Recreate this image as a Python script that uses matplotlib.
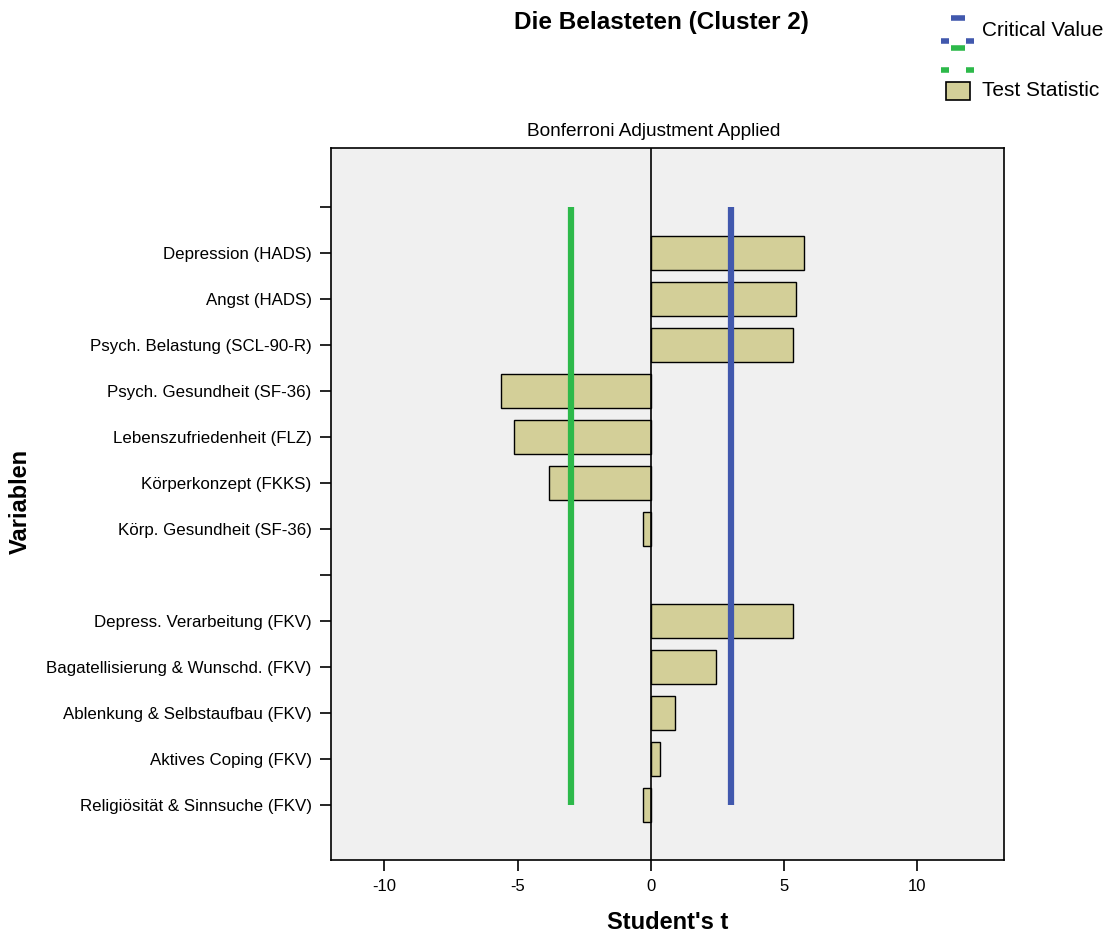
import matplotlib
matplotlib.use("Agg")
import matplotlib.pyplot as plt
from matplotlib.lines import Line2D
from matplotlib.patches import Rectangle

# Variables (top to bottom); empty strings are blank separator rows
variables = [
    "",
    "Depression (HADS)",
    "Angst (HADS)",
    "Psych. Belastung (SCL-90-R)",
    "Psych. Gesundheit (SF-36)",
    "Lebenszufriedenheit (FLZ)",
    "Körperkonzept (FKKS)",
    "Körp. Gesundheit (SF-36)",
    "",
    "Depress. Verarbeitung (FKV)",
    "Bagatellisierung & Wunschd. (FKV)",
    "Ablenkung & Selbstaufbau (FKV)",
    "Aktives Coping (FKV)",
    "Religiösität & Sinnsuche (FKV)",
]
t_values = [None, 5.75, 5.45, 5.34, -5.64, -5.15, -3.84, -0.30,
            None, 5.34, 2.46, 0.91, 0.36, -0.30]
critical_value = 3.0
x_ticks = [-10, -5, 0, 5, 10]

bar_color = "#d3cf98"
blue = "#4158ad"
green = "#2db94a"
font = "Liberation Sans"

fig = plt.figure(figsize=(11.11, 9.36), dpi=100)
ax = fig.add_axes([0.298, 0.0812, 0.6057, 0.7607])
ax.set_facecolor("#f0f0f0")

pos = list(range(len(variables)))
for p, v in zip(pos, t_values):
    if v is None:
        continue
    ax.barh(p, v, height=0.74, color=bar_color, edgecolor="black",
            linewidth=1.0, zorder=2)

ax.axvline(0, color="black", linewidth=1.2, zorder=3)
ax.vlines([critical_value], pos[0], pos[-1], color=blue, linewidth=4.5, zorder=4)
ax.vlines([-critical_value], pos[0], pos[-1], color=green, linewidth=4.5, zorder=4)

ax.set_xlim(-12.0, 13.25)
ax.set_ylim(len(variables) - 1 + 1.2, -1.28)
ax.set_xticks(x_ticks)
ax.set_xticklabels([str(t) for t in x_ticks], fontsize=12, family=font)
ax.set_yticks(pos)
ax.set_yticklabels(variables, fontsize=12.2, family=font)
ax.tick_params(axis="both", length=8, width=1.2, color="black", pad=6)
for s in ax.spines.values():
    s.set_linewidth(1.2)

ax.set_xlabel("Student's t", fontsize=17, fontweight="bold",
              family=font, labelpad=12)
fig.text(20 / 1111, 1 - 501 / 936, "Variablen", rotation=90, fontsize=17,
         fontweight="bold", family=font, ha="center", va="center")
fig.text(654 / 1111, 1 - 131 / 936, "Bonferroni Adjustment Applied",
         fontsize=13.7, family=font, ha="center", va="center")
fig.text(0.595, 0.976, "Die Belasteten (Cluster 2)", fontsize=17.5,
         fontweight="bold", family=font, ha="center", va="center")

# legend drawn in figure pixels (SPSS-style symbols)
W, H = 1111, 936
def seg(x0, x1, y, c):
    fig.add_artist(Line2D([x0 / W, x1 / W], [1 - y / H, 1 - y / H],
                          color=c, linewidth=4, solid_capstyle="butt",
                          transform=fig.transFigure))
seg(951, 965, 18, blue)
seg(941, 949, 41, blue)
seg(966, 974, 41, blue)
seg(951, 965, 48, green)
seg(941, 949, 70, green)
seg(966, 974, 70, green)
fig.add_artist(Rectangle((946 / W, 1 - 100 / H), 24 / W, 18 / H,
                         facecolor=bar_color, edgecolor="black", linewidth=1.2,
                         transform=fig.transFigure))
fig.text(982 / W, 1 - 31 / H, "Critical Value", fontsize=15, family=font, va="center")
fig.text(982 / W, 1 - 91 / H, "Test Statistic", fontsize=15, family=font, va="center")

fig.savefig("out.png", dpi=100)
